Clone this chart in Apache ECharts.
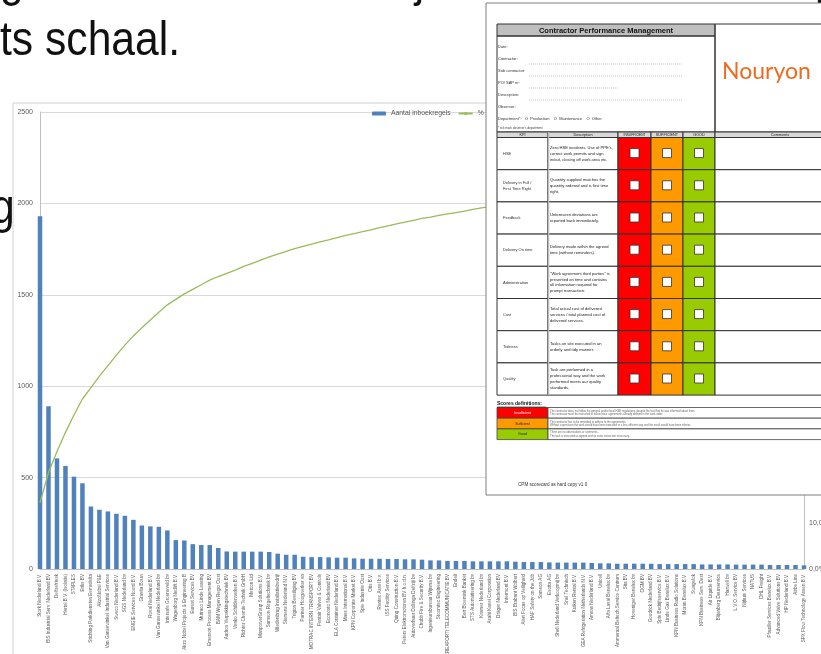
<!DOCTYPE html>
<html>
<head>
<meta charset="utf-8">
<style>
  html, body { margin: 0; padding: 0; background: #fff; }
  #chart { width: 821px; height: 654px; }
</style>
<script src="https://cdn.jsdelivr.net/npm/echarts@6.0.0/dist/echarts.min.js"></script>
</head>
<body>
<div id="chart"></div>
<script>
// --- chart data ---
const contractors = [
  'Stork Nederland B.V.', 'BIS Industrial Serv. Nederland BV', 'Delfsefriesk', 'Hertel B.V. (Isolatie)', 'STAPLES',
  'Eriks BV', 'Stichting Parkdiensten Eemsdelta', 'AkzoNobel P&E', 'Van Gansewinkel Industrial Services', 'Sweco Nederland B.V.',
  'SGS Nederland bv', 'ENGIE Services Noord B.V.', 'Gravita Bouw', 'Roval Nederland B.V.', 'Van Gansewinkel Nederland bv',
  'Intersafe Groeneveld bv', 'Wagenborg Nedlift B.V.', 'Akzo Nobel Projects & Engineering B', 'Eurest Services BV', 'Mutraco Linde Leasing',
  'Emerson Process Management BV', 'BAM Wegen Regio Oost', 'Audros Verpakkingstechniek BV', 'Venko Schilderwerken B.V.', 'Richter Chemie-Technik GmbH',
  'Metcon Ltd', 'ManpowerGroup Solutions B.V.', 'Samson Regeltechniek bv', 'Wiedenbrug Installatiebedrijf', 'Siemens Nederland N.V.',
  'Trigion Beveiliging BV', 'Partner Hoogwerker en', 'MOTRAC INTERN TRANSPORT BV', 'Pentair Valves & Controls', 'Econosto Nederland BV',
  'ELA Container Nederland B.V.', 'Maes International B.V.', 'KPN Corporate Market B.V.', 'Spie Industrie Oost', 'Otis B.V.',
  'Rentex Assel b.v.', 'ISS Facility Services', 'Quing Construction B.V.', 'Peters Elektromotoren BV h.o.d.n.', 'Autoverhuur Dollinga Delfzijl bv',
  'Chubb Fire & Security B.V.', 'Ingenieursbureau Wijnma bv', 'Stoomtec Engineering', 'KREAFORTI TELECOMMUNICATIE BV', 'Endeli',
  'Bert Bloemink Banket', 'STS Automatisering bv', 'Kramer Nederland bv', 'Asahi Kasei Corporation', 'Dräger Nederland BV',
  'Intermont B.V.', 'BIS Brabant Wolbert', 'Alert Focus op Veiligheid', 'HAF Safety on the Job', 'Samson AG',
  'Esotta AG', 'Shell Nederland Verkoopmij bv', 'Snel Technisch', 'Kuiken Rental B.V.', 'GEA Refrigeration Netherlands N.V.',
  'Amsas Nederland B.V.', 'Unicell', 'Alfa Laval Benelux bv', 'Ammeraal Beltech Service Centrum', 'Sita BV',
  'Hoveniger Benelux bv', 'OGM BV', 'Goodrick Nederland BV', 'Spie Bedrijfsservice B.V.', 'Linde Gas Benelux B.V.',
  'KPN Business Radio Solutions', 'Moran Benelux B.V.', 'Swagelok', 'KPN Business Serv. Dest', 'Air Liquide B.V.',
  'Blijenberg Deurservice', 'Harwell bv', 'L.V.O. Service BV', 'Nijhuis Services', 'NATUS',
  'DHL Freight', 'Pfaudler Services Benelux B.V.', 'Advanced Valve Solutions BV', 'HP Nederland B.V.', 'Airbe Line',
  'SPX Flow Technology Assen B.V.'
];

const bookings = [
  1930, 890, 605, 564, 505, 469, 342, 324, 315, 302, 291, 269, 238, 233, 231, 211, 158, 156, 136, 131, 131, 115, 96, 95, 95, 95, 95, 93, 84, 78, 78,
  67, 65, 65, 64, 62, 62, 58, 56, 56, 56, 55, 55, 53, 53, 51, 47, 47, 44, 44, 44, 42, 42, 42, 42, 42, 40,
  38, 38, 38, 36, 35, 35, 35, 35, 33, 31, 31, 29, 29, 29, 29, 29, 27, 27, 27, 27, 27, 25, 25, 25, 25, 24, 24, 24, 24, 22, 22, 22, 22, 20
];

const cumulativePct = [
  14.5, 21.1, 25.7, 29.9, 33.7, 37.2, 39.7, 42.2, 44.5, 46.8, 49.0, 51.0, 52.8, 54.5, 56.2, 57.8, 59.0, 60.2, 61.2, 62.2,
  63.2, 64.0, 64.7, 65.4, 66.2, 66.9, 67.6, 68.3, 68.9, 69.5, 70.1,
  70.6, 71.1, 71.6, 72.0, 72.5, 73.0, 73.4, 73.8, 74.2, 74.7, 75.1, 75.5, 75.9, 76.3, 76.7, 77.0, 77.4, 77.7, 78.0, 78.3,
  78.7, 79.0, 79.3, 79.6, 79.9, 80.2,
  80.5, 80.8, 81.1, 81.3, 81.6, 81.9, 82.1, 82.4, 82.6, 82.9, 83.1, 83.3, 83.5, 83.8, 84.0, 84.2, 84.4, 84.6, 84.8, 85.0,
  85.2, 85.4, 85.6, 85.8, 86.0, 86.1, 86.3, 86.5, 86.7, 86.8, 87.0, 87.2, 87.3, 87.5
];

const seriesNames = ['Aantal inboekregels', '%'];

// --- texts of the scorecard pasted over the chart ---
const formFields = ['Date:', 'Contractor:', 'Sub contractor:', 'PO/ SAP nr:', 'Description:', 'Observer:'];
const kpiNames = ['HSE', 'Delivery in Full /\nFirst Time Right', 'Feedback', 'Delivery On time', 'Administration', 'Cost', 'Tidiness', 'Quality'];
const kpiDesc = [
  "Zero HSE incidents. Use of PPE's,\ncorrect work permits and sign\nin/out, closing off work area etc.",
  'Quantity supplied matches the\nquantity ordered and is first time\nright.',
  'Unforeseen deviations are\nreported back immediately.',
  'Delivery made within the agreed\ntime (without reminders).',
  '"Work agreement third parties" is\npresented on time and contains\nall information required for\nprompt transaction.',
  'Total actual cost of delivered\nservices / total planned cost of\ndelivered services.',
  'Tasks on site executed in an\norderly and tidy manner.',
  'Task are performed in a\nprofessional way and the work\nperformed meets our quality\nstandards.'
];
const scoreNames = ['Insufficient', 'Sufficient', 'Good'];
const scoreDesc = [
  'The contractor does not follow the general and/or local HSE regulations, despite the fact that he was informed about them.\nThe contractor must be instructed to follow basic agreements already defined in the work order.',
  'The contractor has to be reminded to adhere to the agreements.\nWithout supervision the work would have been executed in a less efficient way and the result would have been inferior.',
  'There are no observations or comments.\nThe task is executed as agreed and no extra instruction necessary.'
];

const FONT = 'Liberation Sans, Arial, sans-serif';
const RED = '#FF0000', ORANGE = '#FF9900', GREEN = '#99CC00';

const g = [];
function rect(x, y, w, h, fill, stroke, lw, z) {
  g.push({ type: 'rect', silent: true, z: z || 100, shape: { x, y, width: w, height: h },
    style: { fill: fill || 'none', stroke: stroke || null, lineWidth: lw || 1 } });
}
function line(x1, y1, x2, y2, stroke, lw, dash, z) {
  g.push({ type: 'line', silent: true, z: z || 101, shape: { x1, y1, x2, y2 },
    style: { stroke, lineWidth: lw || 1, lineDash: dash || null } });
}
function txt(x, y, text, size, extra, z, scaleX) {
  g.push({ type: 'text', silent: true, z: z || 102, x, y, scaleX: scaleX || 1,
    style: Object.assign({ text, fontSize: size, fontFamily: FONT, fill: '#222', verticalAlign: 'middle' }, extra || {}) });
}

// slide text behind / around the chart
txt(0, -18, 'geleverd werk en de lijst van leveranciers op grote en kleine', 49, { fill: '#111' }, 5, 0.87);
txt(0, 41, 'ts schaal.', 49, { fill: '#111' }, 5, 0.87);
txt(-9, 209, 'g', 49, { fill: '#111' }, 150, 0.87);

// chart frame
rect(13, 103, 830, 600, 'none', '#D0D0D0', 1, 1);

// scorecard
rect(486, 3, 360, 492, '#fff', '#7F7F7F', 1, 100);
rect(497, 24, 218, 12, '#BFBFBF', '#333', 1);
txt(606, 30.5, 'Contractor Performance Management', 7.5, { fontWeight: 'bold', align: 'center', fill: '#111' });
rect(497, 36, 218, 96, 'none', '#333', 1);
rect(715, 24, 130, 108, 'none', '#333', 1);
txt(722, 72, 'Nouryon', 23, { fill: '#EC6B1F', fontFamily: 'Lato, ' + FONT });
formFields.forEach((f, i) => txt(498, 47 + i * 12, f, 4, { fill: '#333' }));
[64, 76, 100].forEach(y => line(529, y, 682, y, '#999', 0.6, [1, 1]));
line(529, 88, 618, 88, '#999', 0.6, [1, 1]);
txt(498, 119, 'Department*:   O  Production    O  Maintenance    O  Other', 4, { fill: '#333' });
txt(498, 128, "* tick mark observer's department", 3, { fill: '#444' });

const cols = [497, 548, 618, 651, 683, 715, 845];
const heads = ['KPI', 'Description', 'INSUFFICIENT', 'SUFFICIENT', 'GOOD', 'Comments'];
for (let c = 0; c < 6; c++) {
  rect(cols[c], 132, cols[c + 1] - cols[c], 5.5, '#D9D9D9', '#333', 1);
  txt((cols[c] + cols[c + 1]) / 2, 134.8, heads[c], c === 2 ? 3.2 : 3.8, { align: 'center', fill: '#222' });
}
const rowTop = 137.5, rowH = 32.2;
kpiNames.forEach((k, i) => {
  const y = rowTop + i * rowH, mid = y + rowH / 2;
  rect(cols[0], y, cols[1] - cols[0], rowH, '#fff', '#333', 1);
  rect(cols[1], y, cols[2] - cols[1], rowH, '#fff', '#333', 1);
  rect(cols[2], y, cols[3] - cols[2], rowH, RED, '#333', 1);
  rect(cols[3], y, cols[4] - cols[3], rowH, ORANGE, '#333', 1);
  rect(cols[4], y, cols[5] - cols[4], rowH, GREEN, '#333', 1);
  rect(cols[5], y, cols[6] - cols[5], rowH, '#fff', '#333', 1);
  txt(503, mid, k, 4, { fill: '#333', lineHeight: 6 });
  txt(550, mid, kpiDesc[i], 4.1, { fill: '#222', lineHeight: 5.8 });
  for (let c = 2; c < 5; c++) {
    const cx = (cols[c] + cols[c + 1]) / 2;
    rect(cx - 4.5, mid - 5, 9, 9, '#fff', '#333', 0.8, 103);
  }
});
line(548.5, 132, 548.5, 395, '#BDBDBD', 1.5, null, 104);

txt(497, 404, 'Scores definitions:', 5, { fontWeight: 'bold', fill: '#111' });
line(497, 407, 546, 407, '#111', 0.6);
const scoreFill = [RED, ORANGE, GREEN];
scoreNames.forEach((s, i) => {
  const y = 407.5 + i * 10.7;
  rect(497, y, 51, 10.7, scoreFill[i], '#444', 0.8);
  rect(548, y, 300, 10.7, '#fff', '#444', 0.8);
  txt(522.5, y + 5.4, s, 3.6, { align: 'center', fill: i === 0 ? '#fff' : '#222' });
  txt(550, y + 5.4, scoreDesc[i], 2.7, { fill: '#666', lineHeight: 3.6 });
});
txt(518, 485, 'CPM scorecard as hard copy v1.0', 4.6, { fill: '#333' });

const chart = echarts.init(document.getElementById('chart'), null, { renderer: 'canvas' });
chart.setOption({
  animation: false,
  backgroundColor: '#fff',
  textStyle: { fontFamily: FONT },
  grid: { left: 40, right: 17, top: 112, bottom: 85, containLabel: false, outerBoundsMode: 'none' },
  legend: {
    left: 372, top: 110, padding: 0,
    itemWidth: 14, itemHeight: 4, itemGap: 7,
    textStyle: { fontSize: 6.8, color: '#595959', fontFamily: FONT },
    data: seriesNames
  },
  xAxis: {
    type: 'category',
    data: contractors,
    boundaryGap: false,
    axisLine: { lineStyle: { color: '#BFBFBF', width: 1 } },
    axisTick: { show: false },
    axisLabel: { interval: 0, rotate: 90, fontSize: 4.6, color: '#595959', margin: 5, fontFamily: FONT }
  },
  yAxis: [{
    type: 'value', min: 0, max: 2500, interval: 500,
    axisLine: { show: true, lineStyle: { color: '#BFBFBF' } },
    axisTick: { show: false },
    splitLine: { lineStyle: { color: '#D9D9D9', width: 1 } },
    axisLabel: { fontSize: 7, color: '#595959', margin: 7, fontFamily: FONT, formatter: v => String(v) }
  }, {
    type: 'value', min: 0, max: 100, interval: 10, position: 'right',
    axisLine: { show: true, lineStyle: { color: '#BFBFBF' } },
    axisTick: { show: false },
    splitLine: { show: false },
    axisLabel: { fontSize: 7, color: '#595959', margin: 5, fontFamily: FONT,
      formatter: v => v.toFixed(1).replace('.', ',') + '%' }
  }],
  series: [{
    name: seriesNames[0], type: 'bar', data: bookings, yAxisIndex: 0,
    barWidth: 4.5, clip: true, itemStyle: { color: '#4F81BD' }
  }, {
    name: seriesNames[1], type: 'line', data: cumulativePct, yAxisIndex: 1,
    symbol: 'none', smooth: false, lineStyle: { color: '#9BBB59', width: 1.3 }, itemStyle: { color: '#9BBB59' }
  }],
  graphic: { elements: g }
});
</script>
</body>
</html>
